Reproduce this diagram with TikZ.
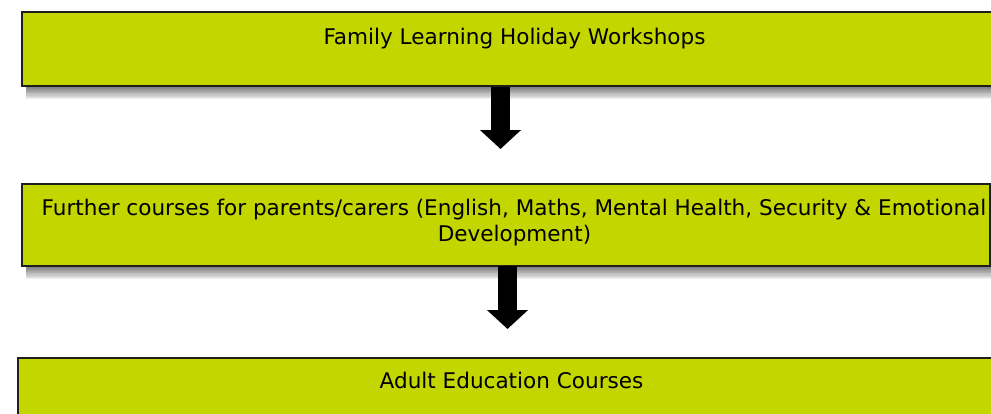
\documentclass[tikz,border=0pt]{standalone}
\usepackage{fontspec}
\setmainfont{DejaVu Sans}
\usetikzlibrary{arrows.meta}
\definecolor{lime}{RGB}{196,214,0}
\definecolor{edge}{RGB}{30,30,30}
\tikzset{
  boxnode/.style={draw=edge, line width=1.7pt, fill=lime, rectangle, inner sep=0pt, anchor=north west},
  boxtext/.style={anchor=base, inner sep=0pt, font=\fontsize{21.55}{26}\selectfont, text=black},
  blockarrow/.style={line width=19pt, line cap=butt, -{Triangle[length=19pt,width=40pt]}, black},
}
\newcommand{\mkshadow}[1]{%
  \foreach \i in {1,...,11}{
    \fill[black, opacity=0.06] ([xshift=5pt]#1.south west) rectangle ([xshift=2pt, yshift=-\i*1.1pt]#1.south east);
  }}
\begin{document}
\begin{tikzpicture}[x=1pt,y=-1pt]
\useasboundingbox (0,0) rectangle (991,413);
\clip (0,0) rectangle (991,413);
% boxes
\node[boxnode, minimum width=987pt, minimum height=74pt] (b1) at (21,11) {};
\node[boxnode, minimum width=968pt, minimum height=82pt] (b2) at (21,183) {};
\node[boxnode, minimum width=991pt, minimum height=83pt] (b3) at (17,357) {};
\mkshadow{b1}
\mkshadow{b2}
% texts
\node[boxtext] (t1) at (514.5,44) {Family Learning Holiday Workshops};
\node[boxtext] (t2a) at (514,215) {Further courses for parents/carers (English, Maths, Mental Health, Security \& Emotional};
\node[boxtext] (t2b) at (514.5,241) {Development)};
\node[boxtext] (t3) at (511.5,388) {Adult Education Courses};
% arrows
\coordinate (a1e) at (500.5,149);
\coordinate (a2e) at (507.5,329);
\draw[blockarrow] (b1.south -| a1e) -- (a1e);
\draw[blockarrow] ([yshift=1pt]b2.south -| a2e) -- (a2e);
\end{tikzpicture}
\end{document}
